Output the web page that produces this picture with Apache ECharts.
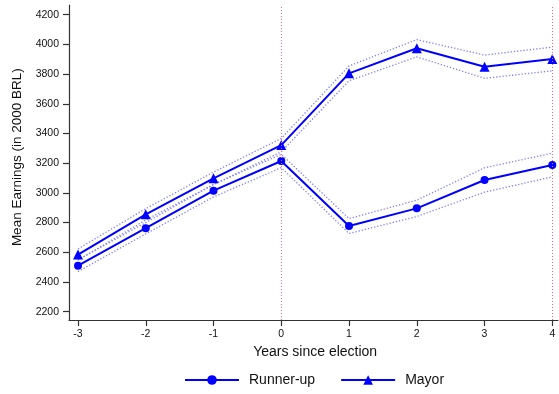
<!DOCTYPE html>
<html>
<head>
<meta charset="utf-8">
<script src="https://cdn.jsdelivr.net/npm/echarts@6/dist/echarts.min.js"></script>
<style>html,body{margin:0;padding:0;background:#fff}#c{width:559px;height:394px}</style>
</head>
<body>
<div id="c"></div>
<script>
const years = [-3, -2, -1, 0, 1, 2, 3, 4];
const runnerUp = [2510, 2762, 3015, 3215, 2777, 2896, 3087, 3188];
const runnerUpUpper = [2550, 2800, 3057, 3260, 2827, 2951, 3169, 3268];
const runnerUpLower = [2470, 2724, 2973, 3170, 2727, 2841, 3005, 3108];
const mayor = [2585, 2856, 3098, 3322, 3805, 3974, 3850, 3902];
const mayorUpper = [2623, 2894, 3140, 3367, 3855, 4032, 3928, 3982];
const mayorLower = [2547, 2818, 3056, 3277, 3755, 3916, 3772, 3822];
const vLines = [0, 4];
const yTicks = { min: 2200, max: 4200, interval: 200 };
const xTicks = { min: -3, max: 4, interval: 1 };

const FONT = 'Liberation Sans, Arial, Helvetica, sans-serif';
const BLUE = '#0000ff';
const CI = '#8080ff';
const pairs = (arr) => years.map((x, i) => [x, arr[i]]);

const chart = echarts.init(document.getElementById('c'), null, { renderer: 'canvas' });
const ciSeries = (arr) => ({
  type: 'line', xAxisIndex: 1, yAxisIndex: 1, data: pairs(arr), symbol: 'none',
  lineStyle: { color: CI, width: 1.3, type: [1.3, 1.9] }, silent: true, z: 1
});
chart.setOption({
  animation: false,
  textStyle: { fontFamily: FONT },
  grid: [
    { left: 69, right: 1, top: 5, bottom: 74 },
    { left: 78, right: 6.7, top: 14.7, bottom: 82.3 }
  ],
  xAxis: [
    { gridIndex: 0, type: 'value', min: -3.133, max: 4.089, axisLine: { show: true, onZero: false, lineStyle: { color: '#333', width: 1.2 } },
      axisTick: { show: false }, axisLabel: { show: false }, splitLine: { show: false } },
    { gridIndex: 1, type: 'value', min: xTicks.min, max: xTicks.max, interval: xTicks.interval, offset: 8.3,
      axisLine: { show: false, onZero: false }, axisTick: { show: true, length: 6, lineStyle: { color: '#333', width: 1.2 } },
      axisLabel: { show: true, color: '#111', fontSize: 10.5, margin: 9, fontFamily: FONT, formatter: v => String(v) },
      splitLine: { show: false },
      name: 'Years since election', nameLocation: 'middle', nameGap: 19,
      nameTextStyle: { fontSize: 14, color: '#111', fontFamily: FONT } }
  ],
  yAxis: [
    { gridIndex: 0, type: 'value', min: 2144, max: 4265, axisLine: { show: true, onZero: false, lineStyle: { color: '#333', width: 1.2 } },
      axisTick: { show: false }, axisLabel: { show: false }, splitLine: { show: false } },
    { gridIndex: 1, type: 'value', min: yTicks.min, max: yTicks.max, interval: yTicks.interval, offset: 9,
      axisLine: { show: false, onZero: false }, axisTick: { show: true, length: 6, lineStyle: { color: '#333', width: 1.2 } },
      axisLabel: { show: true, color: '#111', fontSize: 10.5, margin: 10, fontFamily: FONT, formatter: v => String(v) },
      splitLine: { show: false },
      name: 'Mean Earnings (in 2000 BRL)', nameLocation: 'middle', nameGap: 42, nameRotate: 90,
      nameTextStyle: { fontSize: 13.5, color: '#111', fontFamily: FONT, padding: [0, 0, 0, 12] } }
  ],
  legend: {
    left: 184, top: 373, padding: 0, itemWidth: 54, itemHeight: 12, itemGap: 25,
    data: ['Runner-up', 'Mayor'],
    textStyle: { fontSize: 14, color: '#111', fontFamily: FONT, padding: [0, 0, 0, 5] }
  },
  series: [
    { type: 'line', xAxisIndex: 0, yAxisIndex: 0, data: [], silent: true,
      markLine: { symbol: 'none', silent: true, label: { show: false },
        lineStyle: { color: '#ee6688', width: 1, type: [1, 2] },
        data: vLines.map(v => ({ xAxis: v })) } },
    ciSeries(runnerUpUpper), ciSeries(runnerUpLower), ciSeries(mayorUpper), ciSeries(mayorLower),
    { name: 'Runner-up', type: 'line', xAxisIndex: 1, yAxisIndex: 1, data: pairs(runnerUp),
      symbol: 'circle', symbolSize: 8, itemStyle: { color: BLUE }, lineStyle: { color: BLUE, width: 2 }, z: 3 },
    { name: 'Mayor', type: 'line', xAxisIndex: 1, yAxisIndex: 1, data: pairs(mayor),
      symbol: 'triangle', symbolSize: 10, itemStyle: { color: BLUE }, lineStyle: { color: BLUE, width: 2 }, z: 3 }
  ]
});
</script>
</body>
</html>
